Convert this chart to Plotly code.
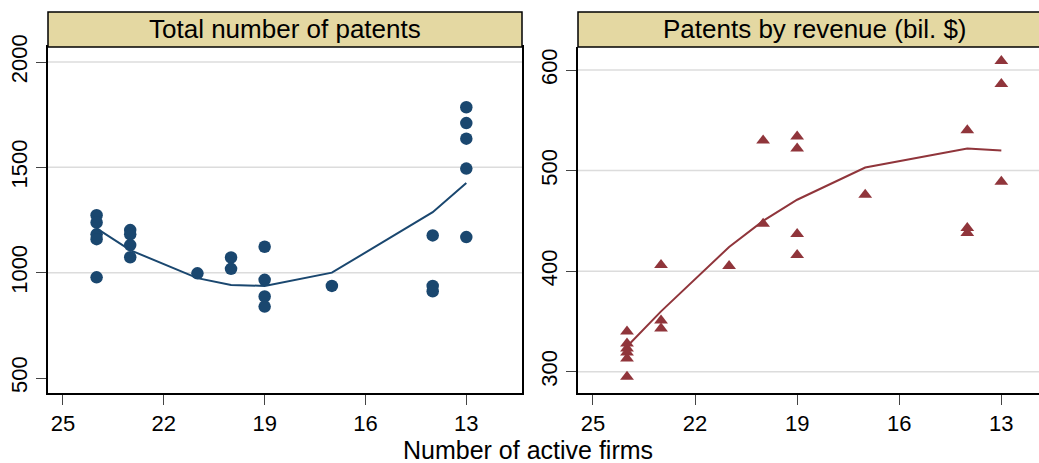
import plotly.graph_objects as go

# ---- data ----
firms_total = [24, 24, 24, 24, 24, 23, 23, 23, 23, 21, 20, 20, 19, 19, 19, 19, 17, 14, 14, 14, 13, 13, 13, 13, 13]
patents_total = [1273, 1238, 1182, 1159, 978, 1202, 1182, 1131, 1073, 997, 1072, 1018, 1123, 966, 887, 839, 937, 1177, 937, 912, 1785, 1710, 1636, 1494, 1169]
fit_x = [24, 23, 21, 20, 19, 17, 14, 13]
fit_total = [1210, 1107, 974, 942, 937, 1000, 1287, 1426]

firms_rev = [24, 24, 24, 24, 24, 24, 23, 23, 23, 21, 20, 20, 19, 19, 19, 19, 17, 14, 14, 14, 13, 13, 13]
patents_rev = [340, 328, 323, 319, 313, 295, 406, 351, 343, 405, 530, 447, 534, 522, 437, 416, 476, 540, 443, 438, 609, 586, 489]
fit_rev = [325, 360, 424, 450, 471, 503, 522, 520]

x_ticks = [25, 22, 19, 16, 13]
y_ticks_total = [500, 1000, 1500, 2000]
y_ticks_rev = [300, 400, 500, 600]
titles = ["Total number of patents", "Patents by revenue (bil. $)"]
x_title = "Number of active firms"

NAVY = "#1A476F"
MAROON = "#90353B"
W, H = 1039, 463

def fx(px):
    return px / W

def fy(py):
    return 1 - py / H

dom_x1 = [fx(48), fx(522)]
dom_x2 = [fx(578), 1.0]
dom_y = [fy(393), fy(47)]

fig = go.Figure()
fig.add_trace(go.Scatter(x=firms_total, y=patents_total, mode="markers",
                         marker=dict(symbol="circle", size=12.5, color=NAVY),
                         xaxis="x", yaxis="y", showlegend=False))
fig.add_trace(go.Scatter(x=fit_x, y=fit_total, mode="lines",
                         line=dict(color=NAVY, width=2),
                         xaxis="x", yaxis="y", showlegend=False))
fig.add_trace(go.Scatter(x=firms_rev, y=patents_rev, mode="markers",
                         marker=dict(symbol="triangle-up", size=12, color=MAROON),
                         xaxis="x2", yaxis="y2", showlegend=False))
fig.add_trace(go.Scatter(x=fit_x, y=fit_rev, mode="lines",
                         line=dict(color=MAROON, width=2),
                         xaxis="x2", yaxis="y2", showlegend=False))

font = "Liberation Sans, Arial, sans-serif"
tickfont = dict(family=font, size=22, color="#000")

xcommon = dict(tickvals=x_ticks, ticks="outside", ticklen=10, tickwidth=1.3,
               tickcolor="#444", showgrid=False, zeroline=False, automargin=False,
               showline=True, linecolor="#000", linewidth=1.5,
               tickfont=tickfont)
ycommon = dict(ticks="outside", ticklen=10, tickwidth=1.3, tickcolor="#444",
               showgrid=False, zeroline=False, showline=True, linecolor="#000",
               automargin=False, linewidth=1.5, tickangle=-90, tickfont=tickfont)

fig.update_layout(
    template="none",
    width=W, height=H,
    margin=dict(l=0, r=0, t=0, b=0, pad=0),
    paper_bgcolor="white", plot_bgcolor="white",
    xaxis=dict(domain=dom_x1, range=[25.446, 11.343], anchor="y", mirror=True, **xcommon),
    yaxis=dict(domain=dom_y, range=[428.8, 2071.2], anchor="x", tickvals=y_ticks_total,
               mirror=True, **ycommon),
    xaxis2=dict(domain=dom_x2, range=[25.44, 11.893], anchor="y2", mirror=False, **xcommon),
    yaxis2=dict(domain=dom_y, range=[278.8, 622.9], anchor="x2", tickvals=y_ticks_rev,
                mirror=False, **ycommon),
)

shapes = []
# gridlines (no gridline at the lowest tick of the left panel, as in the original)
for v in y_ticks_total[1:]:
    shapes.append(dict(type="line", xref="x domain", yref="y", x0=0, x1=1, y0=v, y1=v,
                       line=dict(color="#DCDCDC", width=1.5), layer="below"))
for v in y_ticks_rev:
    shapes.append(dict(type="line", xref="x2 domain", yref="y2", x0=0, x1=1, y0=v, y1=v,
                       line=dict(color="#DCDCDC", width=1.5), layer="below"))
# strip headers
for dom in (dom_x1, [dom_x2[0], 1.02]):
    shapes.append(dict(type="rect", xref="paper", yref="paper",
                       x0=dom[0], x1=dom[1], y0=fy(47), y1=fy(12),
                       fillcolor="#E4D8A2", line=dict(color="#000", width=1.5)))
fig.update_layout(shapes=shapes)

ann = []
for dom, t in zip((dom_x1, [dom_x2[0], fx(1052)]), titles):
    ann.append(dict(text=t, xref="paper", yref="paper", x=(dom[0] + dom[1]) / 2,
                    y=fy(29.5), xanchor="center", yanchor="middle", showarrow=False,
                    font=dict(family=font, size=26, color="#000")))
ann.append(dict(text=x_title, xref="paper", yref="paper", x=fx(528), y=fy(450),
                xanchor="center", yanchor="middle", showarrow=False,
                font=dict(family=font, size=25, color="#000")))
fig.update_layout(annotations=ann)

fig.write_html("out.html", config={"displayModeBar": False},
               post_script="document.body.style.margin='0';document.body.style.padding='0';"
                           "document.body.style.overflow='hidden';")
